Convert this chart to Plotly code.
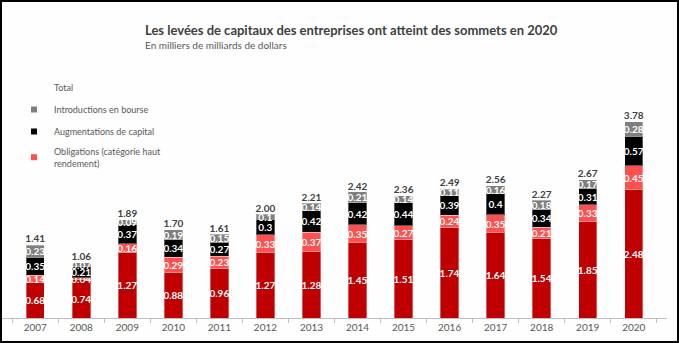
import plotly.graph_objects as go

years = ["2007", "2008", "2009", "2010", "2011", "2012", "2013",
         "2014", "2015", "2016", "2017", "2018", "2019", "2020"]
oblig_invest = [0.68, 0.74, 1.27, 0.88, 0.96, 1.27, 1.28, 1.45, 1.51, 1.74, 1.64, 1.54, 1.85, 2.48]
oblig_haut = [0.14, 0.04, 0.16, 0.29, 0.23, 0.33, 0.37, 0.35, 0.27, 0.24, 0.35, 0.21, 0.33, 0.45]
augmentations = [0.35, 0.21, 0.37, 0.34, 0.27, 0.3, 0.42, 0.42, 0.44, 0.39, 0.4, 0.34, 0.31, 0.57]
introductions = [0.23, 0.07, 0.09, 0.19, 0.15, 0.1, 0.14, 0.21, 0.14, 0.11, 0.16, 0.18, 0.17, 0.28]
totals = [1.41, 1.06, 1.89, 1.70, 1.61, 2.00, 2.21, 2.42, 2.36, 2.49, 2.56, 2.27, 2.67, 3.78]

title_text = "Les levées de capitaux des entreprises ont atteint des sommets en 2020"
subtitle_text = "En milliers de milliards de dollars"

FONT = "Lato"
W, H = 679, 343
ML, MR, MT, MB = 2, 12, 62, 25
PW, PH = W - ML - MR, H - MT - MB


def px_x(p):
    return (p - ML) / PW


def px_y(p):
    return (H - MB - p) / PH


fig = go.Figure()

series = [
    ("Obligations (catégorie investissement)", oblig_invest, "#C00000"),
    ("Obligations (catégorie haut rendement)", oblig_haut, "#FF4F4F"),
    ("Augmentations de capital", augmentations, "#000000"),
    ("Introductions en bourse", introductions, "#7F7F7F"),
]

for name, vals, col in series:
    fig.add_trace(go.Bar(
        x=years, y=vals, name=name, showlegend=False,
        marker=dict(color=col, line=dict(color="rgba(255,255,255,0.35)", width=1)),
        text=[f"{v:g}" for v in vals],
        textposition="inside", insidetextanchor="middle", textangle=0,
        textfont=dict(family=FONT, size=10, color="white", weight="bold"),
        hoverinfo="skip",
    ))

fig.add_trace(go.Scatter(
    x=years, y=totals, mode="text", showlegend=False,
    text=[f"{t:.2f}" for t in totals], textposition="top center",
    textfont=dict(family=FONT, size=10, color="#404040", weight="bold"),
    hoverinfo="skip",
))

# legend entries
legend_items = [
    ("Total", "rgba(0,0,0,0)"),
    ("Introductions en bourse", "#7F7F7F"),
    ("Augmentations de capital", "#000000"),
    ("Obligations (catégorie haut<br>rendement)", "#FF4F4F"),
]
for i, (name, col) in enumerate(legend_items):
    fig.add_trace(go.Scatter(
        x=[None], y=[None], mode="markers", name=name,
        legendgroup=f"g{i}", legendrank=i + 1,
        marker=dict(symbol="square", size=6, color=col),
    ))

fig.update_layout(
    width=W, height=H,
    margin=dict(l=ML, r=MR, t=MT, b=MB),
    barmode="stack", bargap=0.6,
    paper_bgcolor="#FDFEFD", plot_bgcolor="#FDFEFD",
    uniformtext=dict(minsize=10, mode="show"),
    font=dict(family=FONT, color="#595959"),
    showlegend=True,
    legend=dict(
        x=px_x(14), y=px_y(73), xanchor="left", yanchor="top",
        font=dict(family=FONT, size=9, color="#595959"),
        bgcolor="rgba(0,0,0,0)", tracegroupgap=3, itemwidth=30,
        traceorder="grouped",
    ),
    xaxis=dict(
        type="category", showline=True, linecolor="#BFBFBF", linewidth=1,
        ticks="outside", tickson="boundaries", ticklen=4, tickcolor="#BFBFBF",
        tickfont=dict(family=FONT, size=10, color="#595959"),
        showgrid=False, zeroline=False,
    ),
    yaxis=dict(range=[0, PH / 51.9], visible=False, showgrid=False, zeroline=False),
    annotations=[
        dict(text=title_text, xref="paper", yref="paper", x=px_x(143), y=px_y(30),
             xanchor="left", yanchor="middle", showarrow=False,
             font=dict(family=FONT, size=13, color="#404040", weight="bold")),
        dict(text=subtitle_text, xref="paper", yref="paper", x=px_x(143), y=px_y(45),
             xanchor="left", yanchor="middle", showarrow=False,
             font=dict(family=FONT, size=10, color="#595959")),
    ],
    shapes=[
        dict(type="rect", xref="paper", yref="paper",
             x0=px_x(1), x1=px_x(678), y0=px_y(342), y1=px_y(1),
             line=dict(color="black", width=2), fillcolor="rgba(0,0,0,0)", layer="above"),
    ],
)

fig.write_html("out.html")
